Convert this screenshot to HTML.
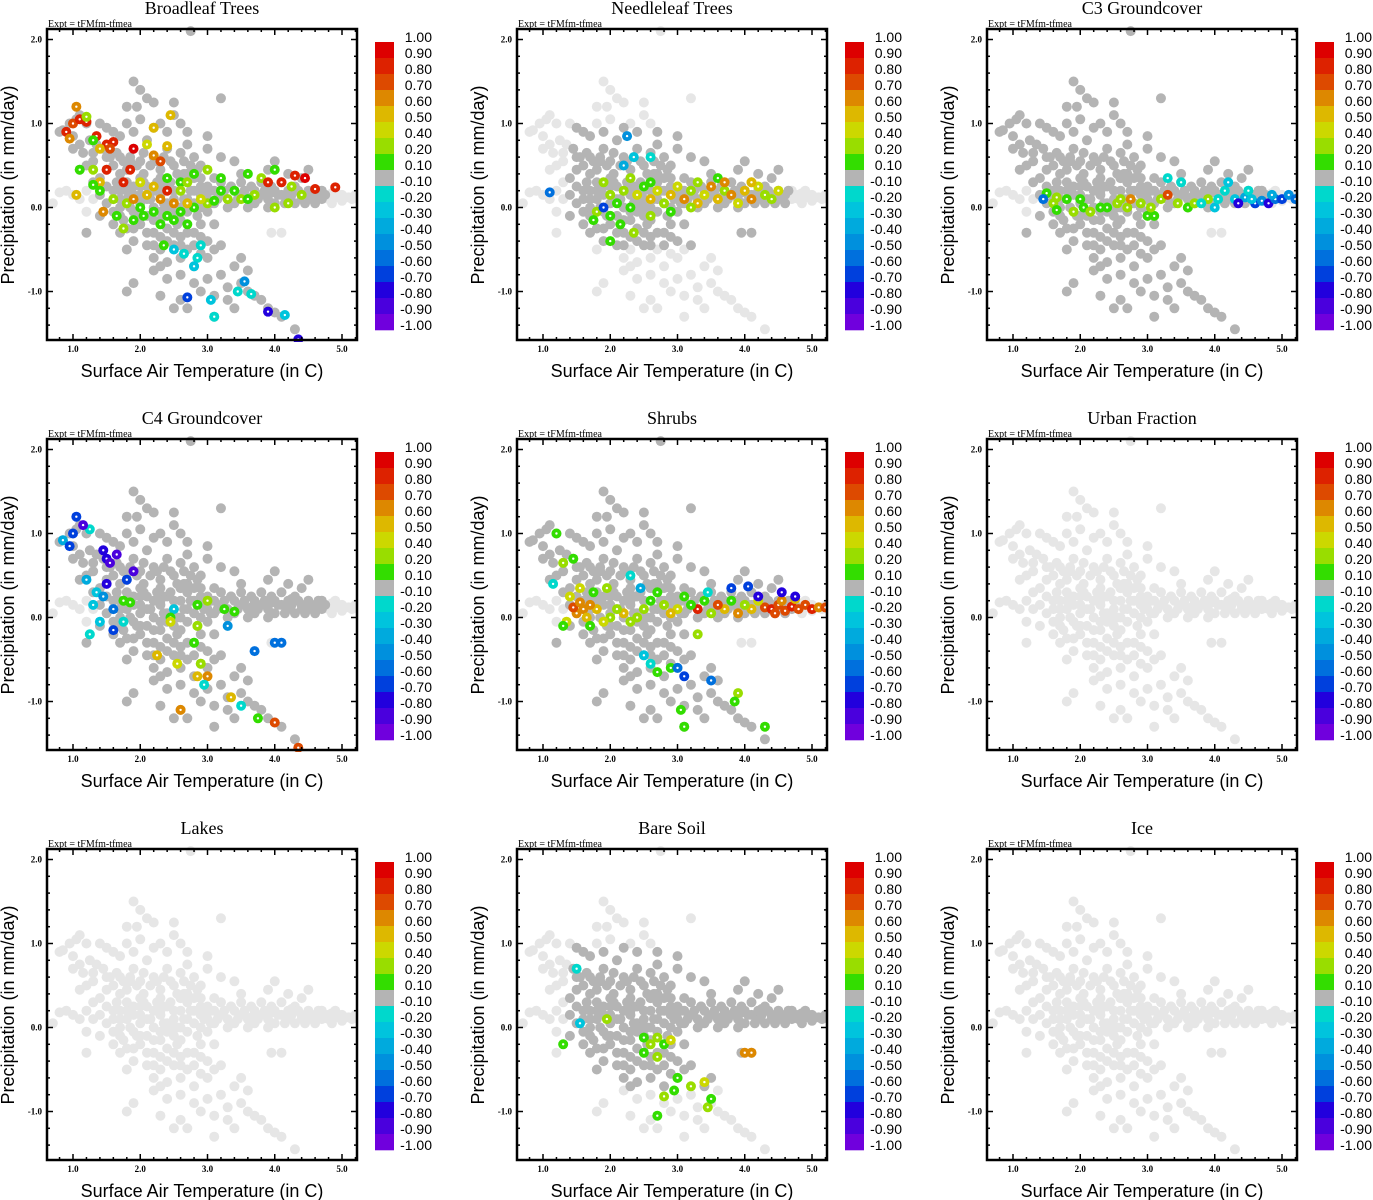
<!DOCTYPE html>
<html><head><meta charset="utf-8"><style>
html,body{margin:0;padding:0;background:#fff;}
svg{display:block;}
</style></head><body>
<svg id="fig" width="1373" height="1200" viewBox="0 0 1373 1200" xmlns="http://www.w3.org/2000/svg"></svg>
<script>
// ---- data ----
const panelTitles = ["Broadleaf Trees","Needleleaf Trees","C3 Groundcover","C4 Groundcover","Shrubs","Urban Fraction","Lakes","Bare Soil","Ice"];
const panelShade = ["veg","needle","veg","veg","veg","none","none","bare","none"];
const xTicks = [1.0,2.0,3.0,4.0,5.0];
const xTickLabels = ["1.0","2.0","3.0","4.0","5.0"];
const yTicks = [2.0,1.0,0.0,-1.0];
const yTickLabels = ["2.0","1.0","0.0","-1.0"];
const cbEdges = [1,0.9,0.8,0.7,0.6,0.5,0.4,0.2,0.1,-0.1,-0.2,-0.3,-0.4,-0.5,-0.6,-0.7,-0.8,-0.9,-1];
const cbLabels = ["1.00","0.90","0.80","0.70","0.60","0.50","0.40","0.20","0.10","-0.10","-0.20","-0.30","-0.40","-0.50","-0.60","-0.70","-0.80","-0.90","-1.00"];
const cbColors = ["#dd0000","#dd2200","#dd4a00","#dd8800","#ddb800","#ccd800","#99dd00","#33dd00","#b4b4b4","#00d8cc","#00c4dd","#00aadd","#0090dd","#0070dd","#0040dd","#2200dd","#4a00dd","#7000dd"];
const baseTemp = [1.4,1.5,1.5,1.6,1.6,1.7,1.7,1.8,1.8,1.9,1.9,2.0,2.0,2.1,2.1,2.2,2.2,2.3,2.3,2.4,2.4,2.5,2.5,2.6,2.6,2.7,2.7,2.8,2.8,2.9,2.9,3.0,3.0,3.1,3.1,3.2,3.2,3.3,3.3,3.4,3.4,3.5,3.5,3.6,3.6,3.7,3.7,3.8,3.8,3.9,3.9,4.0,4.0,4.1,4.1,4.2,4.2,4.3,4.3,4.4,4.4,4.5,4.5,4.6,4.6,4.7,4.7,4.8,4.8,4.9,4.9,5.0,5.0,5.1,5.2,3.5,3.9,4.2,4.4,4.0,4.5,
1.6,1.7,1.8,1.9,2.0,2.1,2.2,2.3,2.4,2.5,2.6,2.7,2.8,2.9,3.0,1.7,2.0,2.3,2.6,2.9,1.6,1.8,2.0,2.2,2.4,2.6,2.8,3.0,1.9,2.1,2.3,2.5,2.7,2.9,3.1,2.2,2.4,2.6,2.8,3.2,1.7,2.0,2.3,2.6,2.9,3.1,1.4,1.5,1.3,1.2,1.1,1.4,1.3,1.0,0.9,0.8,1.2,
1.9,2.0,1.95,2.1,2.2,1.8,2.0,2.3,2.2,2.5,2.6,2.7,1.6,1.7,1.8,1.9,2.4,3.2,2.5,2.7,3.0,3.2,3.4,1.4,1.5,
0.8,0.85,0.95,1.05,1.1,1.2,1.0,1.1,1.25,1.35,1.3,1.45,1.5,1.15,1.0,
2.2,2.4,2.6,2.8,3.0,3.2,3.3,3.5,3.6,3.7,3.8,3.9,4.0,4.1,2.9,3.1,3.3,2.7,2.5,2.3,1.8,1.9,1.8,2.3,3.0,3.4,3.6,3.5,2.6,3.1,3.4,4.3,1.2,3.95,4.1,
0.7,1.2,1.3,1.1,2.15,2.45,2.75,3.05,3.35,3.65,3.95,4.25,4.55,4.85,2.05,2.35,2.65,2.95,1.85,2.55,
1.6,1.65,1.7,1.75,1.8,1.85,1.9,1.95,2.0,2.05,2.1,2.15,2.2,2.25,2.3,2.35,2.4,2.45,2.5,2.55,2.6,2.65,2.7,2.75,2.8,2.85,2.9,2.95,3.0,3.05,3.1,3.15,3.25,3.35,3.45,3.55,3.65,3.75,3.85,3.95,4.05,4.15,4.25,4.35,4.45,4.55,4.65,4.75,4.85,4.95,5.05,5.15,
1.55,1.65,1.75,1.85,1.95,2.05,2.15,2.25,2.35,2.45,2.55,2.65,2.75,2.85,1.7,1.9,2.1,2.3,2.5,2.7,2.9,2.2,2.4,2.6,2.8,2.75];
const basePrecip = [.15,.05,.25,.1,-.05,.2,0,.1,.3,-.05,.15,.05,.25,.1,-.1,.2,0,.15,-.05,.25,.05,.1,-.1,.2,0,.1,.3,.05,.2,.15,0,.1,.25,.05,.2,.15,.3,.1,0,.2,.05,.15,.3,.1,0,.2,.05,.15,.3,.1,0,.2,.05,.15,.3,.1,.2,.05,.25,.15,.1,.2,.1,.15,.05,.2,.1,.15,.1,.12,.2,.15,.08,.12,.15,.4,.45,.4,.35,.55,.45,
.5,.6,.45,.7,.55,.8,.6,.45,.7,.5,.65,.4,.6,.5,.7,.4,.35,.35,.35,.35,-.2,-.25,-.2,-.3,-.25,-.35,-.3,-.4,-.4,-.45,-.5,-.45,-.5,-.55,-.5,-.6,-.65,-.6,-.7,-.45,-.1,-.1,-.15,-.15,-.2,-.2,.35,.45,.55,.5,.45,-.1,.3,.15,.2,.18,.2,
1.5,1.4,1.2,1.3,1.25,1.2,1.05,1.0,.95,1.1,1.0,.9,.9,.85,1.0,.9,.9,1.3,1.25,.75,.85,.6,.55,1.0,.95,
.9,.92,1.0,1.05,1.1,1.0,.85,.75,.8,.75,.65,.7,.6,.65,.7,
-.75,-.85,-.8,-.9,-.85,-.8,-.95,-.9,-1.0,-1.05,-1.1,-1.2,-1.25,-1.3,-1.0,-1.05,-1.1,-1.2,-1.2,-1.05,-.5,-.9,-1.0,-.7,-.6,-.7,-.75,-.6,-1.1,-1.3,-1.2,-1.45,-.3,-.3,-.3,
.05,-.05,.1,.1,.1,.0,.2,.05,.25,.12,.18,.22,.14,.17,.3,.25,.4,.2,.55,-.2,
.2,.3,.1,-.15,.2,0,.25,-.1,.15,.4,.25,.1,-.15,.3,.2,.05,-.05,.3,.2,0,.35,.1,-.05,.2,.35,-.1,.25,.1,-.05,.2,.35,.1,.2,.25,.1,.2,.25,.1,.2,.25,.15,.05,.15,.2,.05,.1,.2,.15,.05,.15,.12,.1,
.6,.65,.55,.6,.5,.65,.5,.55,.6,.55,.4,.55,.5,.45,-.3,-.25,-.3,-.35,-.3,-.3,-.35,-.45,-.4,-.45,-.45,2.1];
// colored points per panel: temp, precip, correlation value
const ptsTemp = [
[0.9,1.05,1.0,1.1,1.2,1.2,0.95,1.35,1.5,1.6,1.55,1.3,1.4,1.9,2.2,2.3,2.45,2.2,2.4,2.1,1.85,1.75,1.05,1.4,1.3,1.1,1.3,1.4,1.5,1.45,1.65,1.75,2.35,2.6,2.8,3.0,3.2,3.4,3.6,3.8,4.0,3.9,4.1,4.3,4.45,4.6,4.9,4.25,4.4,3.7,3.5,3.3,3.0,2.8,2.6,2.4,2.2,2.0,1.8,1.6,2.1,2.3,2.4,2.5,2.7,2.9,3.1,2.2,2.0,1.9,2.6,2.4,2.7,3.2,3.6,4.0,4.2,2.05,2.5,2.7,1.9,2.3,2.5,2.65,2.85,2.8,2.9,3.55,3.45,3.65,3.05,2.7,3.1,4.15,3.9,4.35],
[2.0,2.1,2.2,2.3,2.4,2.5,2.6,2.7,2.8,2.9,3.0,3.1,3.2,3.3,3.4,3.5,3.6,3.7,3.8,3.9,4.0,4.1,4.2,4.3,4.4,4.5,2.15,2.0,1.8,1.9,2.3,2.6,3.3,3.6,2.6,2.9,3.2,2.0,1.75,2.35,1.1,1.9,2.25,2.35,2.6,2.2,3.7,4.1],
[1.5,1.6,1.65,1.8,1.9,2.0,2.05,2.15,2.3,2.4,2.55,2.7,2.6,2.75,2.9,3.0,3.1,3.05,3.2,3.3,3.45,3.6,3.7,3.9,1.65,1.45,3.8,4.0,4.15,4.3,4.45,4.5,4.6,4.7,4.8,4.9,5.0,5.1,5.2,4.35,4.55,3.3,4.2,3.5,4.85,4.05],
[1.05,1.25,1.15,1.0,0.85,0.95,1.45,1.5,1.65,1.55,1.9,1.2,1.5,1.8,1.35,1.45,1.3,1.6,1.4,1.25,1.6,1.75,2.5,3.3,4.0,4.1,3.7,1.75,1.85,2.45,2.45,2.85,2.85,3.0,3.25,3.4,2.8,2.25,2.55,2.9,2.85,3.0,2.95,3.35,3.5,3.75,2.6,4.0,4.35],
[4.3,4.4,4.5,4.6,4.7,4.8,4.9,5.0,5.1,5.2,4.55,4.75,4.45,4.2,4.1,4.0,3.9,3.8,3.7,3.6,3.5,3.4,3.3,3.2,3.1,3.0,2.9,2.8,2.6,2.5,2.4,2.3,2.2,2.1,2.0,1.9,1.8,1.7,1.6,1.5,1.45,1.55,1.65,1.7,1.35,1.55,1.4,1.95,1.75,1.2,1.45,1.3,1.15,1.3,2.3,2.45,3.45,3.8,4.05,4.2,4.55,4.75,2.6,2.9,3.0,3.1,3.5,2.5,3.9,2.7,3.85,3.05,3.1,4.3,3.3,2.7],
[],[],
[1.3,1.5,1.55,1.95,2.5,2.6,2.7,2.8,2.9,2.5,2.7,3.0,2.95,2.8,2.7,3.4,3.45,3.5,4.0,4.1,3.2],
[]];
const ptsPrecip = [
[0.9,1.2,1.0,1.05,1.02,1.08,0.82,0.85,0.75,0.78,0.7,0.8,0.7,0.7,0.62,0.55,1.1,0.95,0.73,0.75,0.45,0.3,0.15,0.3,0.45,0.45,0.27,0.2,0.45,-0.05,-0.1,-0.25,-0.45,0.3,0.4,0.45,0.35,0.2,0.4,0.35,0.45,0.3,0.3,0.38,0.35,0.22,0.24,0.25,0.15,0.15,0.1,0.1,0.05,0.0,-0.05,-0.1,-0.05,0.0,0.05,0.1,0.15,0.1,0.2,0.05,0.05,0.1,0.08,0.25,0.3,0.1,0.2,0.35,0.3,0.2,0.1,0.0,0.05,-0.1,-0.15,-0.2,-0.15,-0.2,-0.5,-0.55,-0.6,-0.7,-0.45,-0.88,-1.0,-1.03,-1.1,-1.07,-1.3,-1.28,-1.24,-1.57],
[0.15,0.05,0.2,0.0,0.15,0.25,0.1,0.2,0.05,0.15,0.25,0.1,0.2,0.05,0.15,0.25,0.1,0.2,0.15,0.05,0.2,0.1,0.25,0.15,0.1,0.2,-0.2,-0.1,-0.05,0.3,0.35,0.3,0.3,0.35,-0.1,-0.05,0.0,-0.4,-0.15,-0.3,0.18,0.0,0.85,0.6,0.6,0.5,0.3,0.3],
[0.17,0.05,-0.03,0.1,-0.05,0.1,0.0,-0.05,0.0,0.0,0.05,0.0,0.1,0.1,0.05,-0.1,-0.1,0.0,0.1,0.15,0.05,0.0,0.05,0.1,0.12,0.1,0.05,0.0,0.2,0.1,0.12,0.2,0.05,0.08,0.05,0.1,0.1,0.15,0.1,0.05,0.1,0.35,0.3,0.3,0.15,0.1],
[1.2,1.05,1.1,1.0,0.92,0.85,0.8,0.7,0.75,0.65,0.55,0.45,0.4,0.45,0.3,0.25,0.15,0.1,-0.05,-0.2,-0.15,-0.05,0.1,-0.1,-0.3,-0.3,-0.4,0.2,0.18,0.0,-0.05,-0.1,0.15,0.2,0.1,0.07,-0.3,-0.45,-0.55,-0.55,-0.7,-0.7,-0.8,-0.95,-1.05,-1.2,-1.1,-1.25,-1.55],
[0.12,0.1,0.15,0.08,0.13,0.1,0.15,0.1,0.12,0.12,0.2,0.22,0.05,0.2,0.1,0.15,0.05,0.2,0.1,0.15,0.05,0.2,0.1,0.15,0.25,0.1,0.05,0.15,0.2,0.1,0.0,-0.05,0.05,0.1,0.0,-0.05,0.1,0.15,0.1,0.05,0.12,0.18,0.0,-0.1,-0.05,0.35,0.25,0.35,0.3,1.0,0.7,0.65,0.4,-0.1,0.5,0.35,0.3,0.35,0.37,0.25,0.3,0.25,-0.55,-0.6,-0.6,-0.7,-0.75,-0.45,-0.9,-0.65,-1.0,-1.1,-1.3,-1.3,-0.2,0.3],
[],[],
[-0.2,0.7,0.05,0.1,-0.12,-0.2,-0.12,-0.2,-0.15,-0.3,-0.35,-0.6,-0.75,-0.82,-1.05,-0.65,-0.95,-0.85,-0.3,-0.3,-0.7],
[]];
const ptsValue = [
[0.8,0.6,0.7,0.8,0.8,0.2,0.6,0.8,0.8,0.8,0.7,0.1,0.5,0.9,0.6,0.7,0.5,0.5,0.5,0.4,0.8,0.8,0.5,0.5,0.2,0.1,0.1,0.1,0.8,0.6,0.1,0.2,0.1,0.1,0.1,0.2,0.1,0.1,0.1,0.2,0.1,0.8,0.8,0.8,0.9,0.8,0.8,0.2,0.2,0.2,0.2,0.2,0.3,0.1,0.1,0.1,0.1,0.1,0.2,0.2,0.5,0.6,0.8,0.6,0.5,0.4,0.1,0.5,0.4,0.6,0.2,0.1,0.2,0.1,0.1,0.2,0.2,0.1,0.1,0.1,0.1,0.1,-0.3,-0.2,-0.2,-0.3,-0.2,-0.5,-0.2,-0.2,-0.3,-0.7,-0.2,-0.3,-0.8,-0.8],
[0.2,0.1,0.3,0.1,0.4,0.1,0.5,0.4,0.3,0.5,0.4,0.6,0.3,0.5,0.4,0.6,0.5,0.3,0.6,0.4,0.5,0.6,0.4,0.3,0.2,0.4,0.1,0.1,0.2,0.3,0.2,0.1,0.2,0.1,0.2,0.1,0.3,0.1,0.1,0.2,-0.6,-0.7,-0.5,-0.3,-0.2,-0.4,0.6,0.5],
[0.1,0.2,0.1,0.1,0.2,0.1,0.1,0.2,0.1,0.1,0.2,0.2,0.3,0.6,0.2,0.1,0.1,0.2,0.2,0.7,0.2,0.1,0.2,0.2,0.2,-0.6,-0.2,-0.3,-0.2,-0.3,-0.4,-0.2,-0.7,-0.5,-0.8,-0.6,-0.7,-0.5,-0.6,-0.8,-0.3,-0.2,-0.3,-0.2,-0.4,-0.2],
[-0.7,-0.2,-0.9,-0.7,-0.4,-0.7,-0.8,-0.8,-0.9,-0.9,-0.9,-0.4,-0.8,-0.7,-0.3,-0.5,-0.3,-0.6,-0.3,-0.2,-0.7,-0.2,-0.3,-0.5,-0.6,-0.6,-0.6,0.1,0.1,0.1,0.4,0.2,0.1,0.2,0.1,0.1,0.1,0.5,0.4,0.2,0.5,0.6,-0.2,0.5,-0.2,0.1,0.6,0.7,0.7],
[0.7,0.8,0.7,0.7,0.8,0.7,0.7,0.8,0.6,0.7,0.6,0.5,0.7,0.4,0.5,0.3,0.6,0.1,0.5,0.7,0.2,0.1,0.8,0.1,0.1,0.4,0.5,0.2,0.1,0.2,0.3,0.2,0.5,0.3,0.2,0.4,0.5,0.6,0.6,0.6,0.7,0.6,0.5,0.1,0.4,0.4,0.4,0.2,0.1,0.1,0.1,0.2,-0.2,0.1,-0.2,-0.4,-0.2,-0.7,-0.7,-0.8,-0.8,-0.8,-0.2,0.1,-0.6,-0.7,-0.6,-0.3,0.3,0.1,0.1,0.1,0.1,0.1,0.2,0.1],
[],[],
[0.1,-0.2,-0.3,0.2,0.1,0.2,0.3,0.1,0.4,0.1,0.2,0.1,0.1,0.2,0.1,0.4,0.3,0.1,0.6,0.6,0.2],
[]];

// ---- drawing ----
const NS = "http://www.w3.org/2000/svg";
const svg = document.getElementById("fig");
function mk(tag, attrs, parent){ const e=document.createElementNS(NS,tag); for(const k in attrs) e.setAttribute(k,attrs[k]); (parent||svg).appendChild(e); return e; }
const PL=47, PT=29, PW=310, PH=311;
function xScale(v){ return 73 + (v-1)*67.25; }
function yScale(v){ return 207.5 - v*84; }
function colorFor(v){ for(let i=0;i<cbColors.length;i++){ if(v<=cbEdges[i] && v>=cbEdges[i+1]) return cbColors[i]; } return cbColors[8]; }
function isDark(mode,x,y){
  if(mode==="none") return false;
  if(mode==="veg") return !((x<1.35 && y<0.3 && y>-0.2) || x>4.75 || (x>3.9 && y<-0.2 && y>-0.5));
  if(mode==="needle") return x>=1.4 && y>-0.5 && y<1.0 && x<4.7;
  if(mode==="bare") return x>=1.4 && y>-0.75 && y<1.0;
  return false;
}
for(let p=0;p<9;p++){
  const ox=(p%3)*470, oy=Math.floor(p/3)*410;
  const g=mk("g",{transform:`translate(${ox},${oy})`});
  
  
  const t=mk("text",{x:202,y:14,"text-anchor":"middle","font-family":"Liberation Serif, serif","font-size":"18"},g);
  t.textContent=panelTitles[p];
  
  
  const ex=mk("text",{x:48,y:27,"font-family":"Liberation Serif, serif","font-size":"10"},g);
  ex.textContent="Expt = tFMfm-tfmea";
  
  
  const cp=mk("clipPath",{id:"clip"+p},g); mk("rect",{x:PL,y:PT-12,width:PW,height:PH+14},cp);
  const pts=mk("g",{"clip-path":`url(#clip${p})`},g);
  
  
  for(const pass of [false,true]){
    for(let i=0;i<baseTemp.length;i++){
      const d=isDark(panelShade[p],baseTemp[i],basePrecip[i]);
      if(d!==pass) continue;
      const c=mk("circle",{cx:xScale(baseTemp[i]),cy:yScale(basePrecip[i]),r:5,fill:d?"#b4b4b4":"#e6e6e6"},pts);
      
      
    }
  }
  const tx=ptsTemp[p], ty=ptsPrecip[p], tv=ptsValue[p];
  for(let i=0;i<tx.length;i++){
    const cx=xScale(tx[i]), cy=yScale(ty[i]);
    const c=mk("circle",{cx:cx,cy:cy,r:5,fill:colorFor(tv[i])},pts);
    
    
    mk("circle",{cx:cx,cy:cy,r:1.2,fill:"#ffffff"},pts);
  }
  const fr=mk("rect",{x:PL,y:PT,width:PW,height:PH,fill:"none",stroke:"#000","stroke-width":2.5},g);
  
  
  for(let v=0.8; v<=5.21; v+=0.2){
    const x=xScale(v), major=Math.abs(v-Math.round(v))<0.01, L=major?6:3;
    mk("line",{x1:x,y1:PT+PH,x2:x,y2:PT+PH-L,stroke:"#000","stroke-width":1.5},g);
    mk("line",{x1:x,y1:PT,x2:x,y2:PT+L,stroke:"#000","stroke-width":1.5},g);
  }
  for(let v=-1.4; v<=2.01; v+=0.2){
    const y=yScale(v), major=Math.abs(v-Math.round(v))<0.01, L=major?6:3;
    mk("line",{x1:PL,y1:y,x2:PL+L,y2:y,stroke:"#000","stroke-width":1.5},g);
    mk("line",{x1:PL+PW,y1:y,x2:PL+PW-L,y2:y,stroke:"#000","stroke-width":1.5},g);
  }
  xTicks.forEach((v,i)=>{ const tl=mk("text",{x:xScale(v),y:352,"text-anchor":"middle","font-family":"Liberation Serif, serif","font-size":"9","font-weight":"bold"},g); tl.textContent=xTickLabels[i];
      });
  yTicks.forEach((v,i)=>{ const tl=mk("text",{x:42,y:yScale(v)+3,"text-anchor":"end","font-family":"Liberation Serif, serif","font-size":"9","font-weight":"bold"},g); tl.textContent=yTickLabels[i];
      });
  const xl=mk("text",{x:202,y:377,"text-anchor":"middle","font-family":"Liberation Sans, sans-serif","font-size":"18"},g);
  xl.textContent="Surface Air Temperature (in C)";
  
  
  const yl=mk("text",{x:0,y:0,"text-anchor":"middle","font-family":"Liberation Sans, sans-serif","font-size":"18",transform:"translate(14,185) rotate(-90)"},g);
  yl.textContent="Precipitation (in mm/day)";
  
  
  const cb=mk("g",{},g);
  
  
  cbColors.forEach((c,i)=>{ mk("rect",{x:375,y:42+i*16,width:19,height:16.3,fill:c},cb); });
  cbLabels.forEach((l,i)=>{ const tl=mk("text",{x:432,y:42+i*16,"text-anchor":"end","font-family":"Liberation Sans, sans-serif","font-size":"14"},cb); tl.textContent=l;
      });
}
</script>
</body></html>
